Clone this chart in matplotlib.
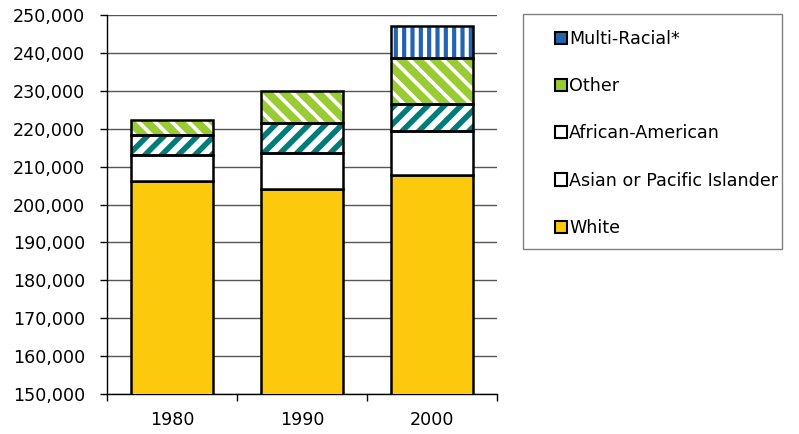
import matplotlib
matplotlib.use('Agg')
import matplotlib.pyplot as plt
import numpy as np
from matplotlib.patches import Patch, Rectangle
from matplotlib.ticker import FuncFormatter, MultipleLocator, FixedLocator

# ---- data ----
years = ['1980', '1990', '2000']
white = [206300, 204000, 207700]
asian = [6800, 9500, 11700]
african = [5300, 8100, 7000]
other = [4000, 8400, 12200]
multi = [0, 0, 8600]

series_names = ['White', 'Asian or Pacific Islander', 'African-American', 'Other', 'Multi-Racial*']

plt.rcParams['font.family'] = ['DejaVu Sans']
FS = 12.6

fig = plt.figure(figsize=(7.99, 4.34), dpi=100)
ax = fig.add_axes([107/799, 40/434, 390/799, 379/434])

x = np.arange(len(years))
width = 0.628

styles = [
    # face, hatch, hatch color, hatch lw
    ('#FCC90C', None, None, None),
    ('white', None, None, None),
    ('white', '//', '#007C7A', 4.0),
    ('#99CC33', '\\\\', 'white', 2.7),
    ('white', '||', '#2363AF', 3.0),
]

cum = np.zeros(len(years))
for vals, (face, hatch, hcol, hlw) in zip([white, asian, african, other, multi], styles):
    v = np.array(vals, float)
    m = v > 0
    if hatch:
        with plt.rc_context({'hatch.linewidth': hlw}):
            bars = ax.bar(x[m], v[m], width, bottom=cum[m], color=face, edgecolor=hcol,
                          hatch=hatch, linewidth=0, zorder=2)
        for b in bars:
            if hasattr(b, 'set_hatch_linewidth'):
                b.set_hatch_linewidth(hlw)
        ax.bar(x[m], v[m], width, bottom=cum[m], facecolor='none', edgecolor='black',
               linewidth=1.8, zorder=3)
    else:
        ax.bar(x[m], v[m], width, bottom=cum[m], facecolor=face, edgecolor='black',
               linewidth=1.8, zorder=3)
    cum = cum + v

ax.set_ylim(150000, 250000)
ax.set_xlim(-0.5, len(years) - 0.5)
ax.yaxis.set_major_locator(MultipleLocator(10000))
ax.yaxis.set_major_formatter(FuncFormatter(lambda v, p: f'{v:,.0f}'))
ax.set_xticks(x)
ax.set_xticklabels(years)
ax.xaxis.set_minor_locator(FixedLocator(np.arange(len(years) + 1) - 0.5))
ax.tick_params(axis='x', which='major', length=0, labelsize=FS, pad=12.5)
ax.tick_params(axis='x', which='minor', length=5, width=1, color='black')
ax.tick_params(axis='y', length=5, width=1, color='black', labelsize=FS, pad=10.5)

ax.yaxis.grid(True, color='#555555', linewidth=1)
ax.set_axisbelow(True)
for s in ['top', 'right']:
    ax.spines[s].set_visible(False)
for s in ['left', 'bottom']:
    ax.spines[s].set_color('black')
    ax.spines[s].set_linewidth(1)

# legend
leg_colors = ['#2363AF', '#99CC33', 'white', 'white', '#FCC90C']
leg_labels = series_names[::-1]
handles = [Patch(facecolor=c, edgecolor='black', linewidth=1.5) for c in leg_colors]
fig.legend(handles, leg_labels, loc='upper left', bbox_to_anchor=(555/799, 1 - 30/434),
           frameon=False, fontsize=FS, borderpad=0, borderaxespad=0,
           handlelength=0.7, handleheight=0.7, handletextpad=0.1, labelspacing=1.67)
fig.add_artist(Rectangle((523/799, (434 - 249)/434), 259/799, 235/434,
                         transform=fig.transFigure, fill=False, edgecolor='#808080', linewidth=1))

fig.savefig('out.png', dpi=100)
